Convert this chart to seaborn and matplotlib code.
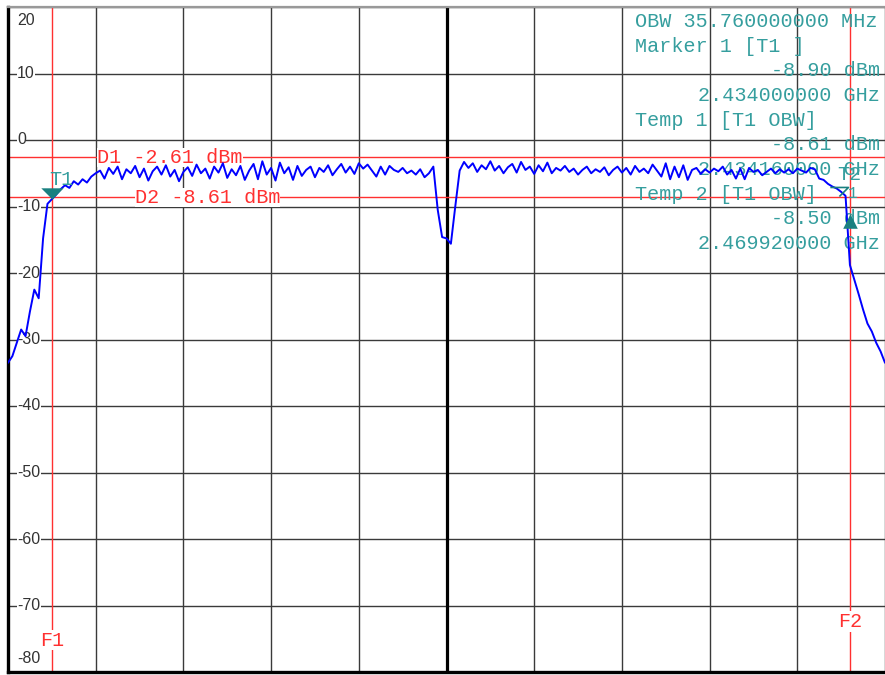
import numpy as np
import seaborn as sns
import matplotlib.pyplot as plt

# sweep: 2.432 .. 2.472 GHz, level in dBm
f_start, f_stop = 2.432, 2.472
level = [
    -33.5, -32.5, -30.5, -28.5, -29.5, -25.8, -22.5, -23.8, -14.8, -9.6,
    -8.9, -8.2, -7.4, -6.8, -7.2, -6.2, -6.7, -5.9, -6.4, -5.5,
    -5.0, -4.6, -5.8, -4.2, -5.1, -4.0, -5.9, -4.4, -5.0, -3.9,
    -5.6, -4.3, -6.1, -4.7, -4.0, -5.2, -3.8, -5.5, -4.5, -6.2,
    -4.8, -4.1, -5.4, -3.7, -5.0, -4.3, -5.8, -4.0, -4.9, -3.5,
    -5.7, -4.4, -5.3, -3.9, -6.0, -4.6, -3.6, -5.9, -3.2, -5.2,
    -4.2, -6.1, -3.4, -5.0, -4.1, -6.0, -3.9, -5.4, -4.5, -4.0,
    -5.6, -4.2, -4.8, -3.8, -5.3, -4.4, -3.6, -4.9, -4.0, -5.1,
    -3.5, -4.3, -3.7, -4.6, -5.5, -4.0, -5.2, -3.9, -4.5, -4.8,
    -4.2, -5.0, -4.6, -5.2, -4.4, -5.6, -5.0, -4.0, -10.5, -14.6,
    -14.8, -15.6, -10.0, -4.6, -3.3, -4.2, -3.5, -4.8, -3.8, -4.4,
    -3.2, -4.6, -3.9, -5.0, -4.1, -3.6, -4.9, -3.3, -4.5, -4.0,
    -5.1, -3.8, -4.7, -3.4, -5.0, -4.2, -4.6, -3.9, -4.8, -4.3,
    -5.2, -4.5, -4.0, -5.0, -4.4, -4.8, -4.1, -5.3, -4.5, -4.0,
    -4.9, -4.2, -5.2, -3.9, -4.8, -4.3, -5.0, -3.7, -4.6, -5.5,
    -3.5, -5.9, -4.0, -5.6, -3.8, -6.0, -4.5, -4.2, -5.1, -4.4,
    -4.9, -4.3, -4.7, -4.0, -5.2, -4.5, -5.8, -4.3, -5.9, -4.2,
    -4.8, -4.5, -5.3, -4.8, -4.3, -5.0, -4.4, -4.9, -4.4, -5.0,
    -4.3, -4.6, -4.9, -4.2, -4.4, -5.8, -6.0, -6.6, -7.0, -7.3,
    -7.8, -8.4, -18.8, -21.0, -23.2, -25.5, -27.6, -28.8, -30.5, -31.8,
    -33.5,
]
freq = np.linspace(f_start, f_stop, len(level))

y_ticks = [20, 10, 0, -10, -20, -30, -40, -50, -60, -70, -80]
x_grid = np.linspace(f_start, f_stop, 11)
center_freq = 2.452

d_lines = [("D1 -2.61 dBm", -2.61), ("D2 -8.61 dBm", -8.61)]
f_lines = [("F1", 2.434), ("F2", 2.4704)]
t1 = (2.434, -8.90)
t2 = (2.46992, -8.50)
up_marker = (2.4704, -12.2)

info_lines = [
    ("OBW 35.760000000 MHz", "left"),
    ("Marker 1 [T1 ]", "left"),
    ("-8.90 dBm", "right"),
    ("2.434000000 GHz", "right"),
    ("Temp 1 [T1 OBW]", "left"),
    ("-8.61 dBm", "right"),
    ("2.434160000 GHz", "right"),
    ("Temp 2 [T1 OBW]", "left"),
    ("-8.50 dBm", "right"),
    ("2.469920000 GHz", "right"),
]

RED = "#ff3030"
TEAL = "#359e9e"
MARK = "#1a8080"
MONO = "Liberation Mono"

sns.set_style("white")
plt.rcParams["font.family"] = ["Liberation Sans", "DejaVu Sans"]

fig = plt.figure(figsize=(8.85, 6.75), dpi=100)
ax = fig.add_axes([8 / 885, 3 / 675, 877 / 885, 665 / 675])

ax.set_xlim(f_start, f_stop)
ax.set_ylim(-80, 20)
ax.set_xticks(x_grid)
ax.set_yticks(y_ticks)
ax.tick_params(length=0, labelleft=False, labelbottom=False)
ax.grid(True, color="#3a3a3a", linewidth=1.0)
ax.set_axisbelow(True)
ax.axvline(center_freq, color="black", linewidth=2.3, zorder=1.5)

for side in ["left", "bottom"]:
    ax.spines[side].set_color("black")
    ax.spines[side].set_linewidth(2.4)
ax.spines["top"].set_color("#999999")
ax.spines["top"].set_linewidth(1.6)
ax.spines["right"].set_visible(False)

# y labels drawn inside the screen
ytr = ax.get_yaxis_transform()
for v in y_ticks:
    off = 0
    if v == y_ticks[0]:
        off = -10
    elif v == y_ticks[-1]:
        off = 10
    ax.annotate(str(v), xy=(0.0103, v), xycoords=ytr, xytext=(0, off),
                textcoords="offset points", ha="left", va="center",
                fontsize=11.5, color="#333333", zorder=3,
                bbox=dict(facecolor="white", edgecolor="none", pad=0.3))

# display lines
xtr = ax.get_xaxis_transform()
for name, v in d_lines:
    ax.axhline(v, color=RED, linewidth=1.0, zorder=2)
for name, v in f_lines:
    ax.axvline(v, color=RED, linewidth=1.0, zorder=2)

for (name, v), xpos in zip(d_lines, [0.1015, 0.1448]):
    ax.text(xpos, v, name, transform=ytr, ha="left", va="center",
            fontsize=14.5, family=MONO, color=RED, zorder=2.5,
            bbox=dict(facecolor="white", edgecolor="none", pad=0.0))
for (name, v), ypos in zip(f_lines, [0.048, 0.076]):
    ax.text(v, ypos, name, transform=xtr, ha="center", va="center",
            fontsize=14.5, family=MONO, color=RED, zorder=2.5,
            bbox=dict(facecolor="white", edgecolor="none", pad=0.5))

# trace
sns.lineplot(x=freq, y=level, color="#0000ff", linewidth=1.4, ax=ax,
             zorder=4, legend=False)

# markers
tip_down = [(-1, 1), (1, 1), (0, 0)]
ax.scatter([t1[0]], [t1[1]], marker=tip_down, s=260, color=MARK, zorder=5,
           linewidths=0)
ax.text(t1[0] - 0.0001, t1[1] + 2.9, "T1", ha="left", va="center",
        fontsize=14.5, family=MONO, color=TEAL, zorder=5)
ax.scatter([t2[0]], [t2[1]], marker=tip_down, s=170, facecolor="none",
           edgecolor=MARK, linewidths=1.2, zorder=5)
ax.text(t2[0] - 0.0001, t2[1] + 3.3, "T2", ha="left", va="center",
        fontsize=14.5, family=MONO, color=TEAL, zorder=5)
ax.text(t2[0] + 0.0004, t2[1] + 0.4, "1", ha="left", va="center",
        fontsize=12, family=MONO, color=TEAL, zorder=3)
ax.scatter([up_marker[0]], [up_marker[1]], marker="^", s=110, color=MARK,
           zorder=5, linewidths=0)

# marker info block
y0 = 1 - 14.5 / 665
step = 24.65 / 665
for i, (txt, side) in enumerate(info_lines):
    xpos = 0.7149 if side == "left" else 0.9943
    ax.text(xpos, y0 - i * step, txt, transform=ax.transAxes, ha=side,
            va="center", fontsize=14.5, family=MONO, color=TEAL, zorder=3)

fig.savefig("out.png", dpi=100)
